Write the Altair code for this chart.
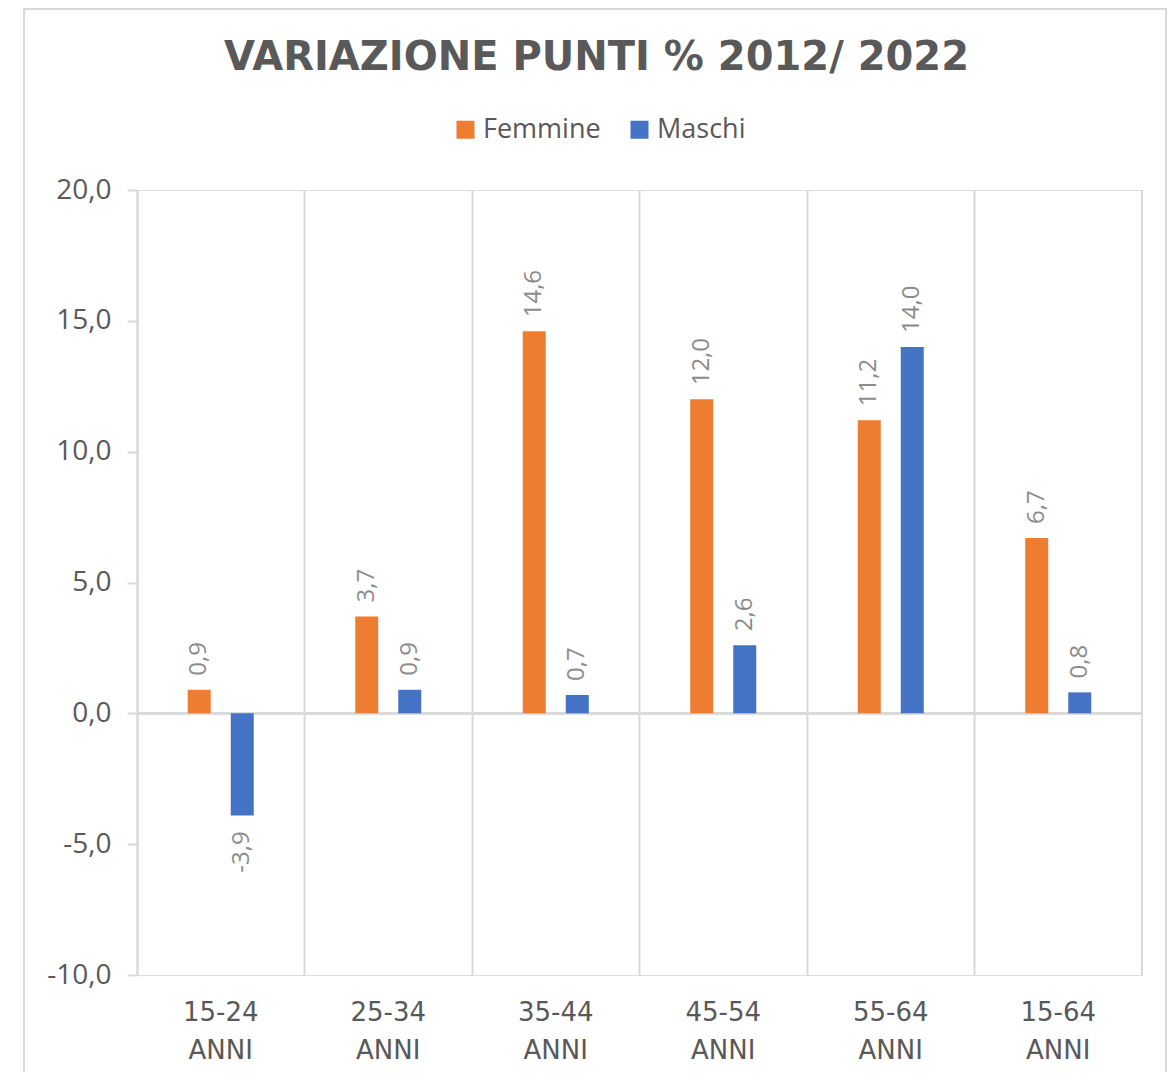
import altair as alt
import pandas as pd

categories = ["15-24 ANNI", "25-34 ANNI", "35-44 ANNI", "45-54 ANNI", "55-64 ANNI", "15-64 ANNI"]
series = ["Femmine", "Maschi"]
femmine = [0.9, 3.7, 14.6, 12.0, 11.2, 6.7]
maschi = [-3.9, 0.9, 0.7, 2.6, 14.0, 0.8]
colors = ["#ED7D31", "#4472C4"]
y_ticks = [-10, -5, 0, 5, 10, 15, 20]

rows = []
for c, f, m in zip(categories, femmine, maschi):
    rows.append({"cat": c, "serie": "Femmine", "v": f})
    rows.append({"cat": c, "serie": "Maschi", "v": m})
df = pd.DataFrame(rows)

W, H = 1005, 785
GRID = "#D9D9D9"
TXT = "#595959"

x_enc = alt.X(
    "cat:N", sort=categories,
    scale=alt.Scale(paddingInner=0, paddingOuter=0),
    axis=alt.Axis(
        title=None, labelAngle=0, labelExpr="split(datum.label, ' ')",
        grid=True, gridColor=GRID, gridWidth=2, bandPosition=0,
        domain=False, ticks=False, labelFont="DejaVu Sans", labelFontSize=26,
        labelColor=TXT, labelPadding=24, labelLineHeight=38, labelBaseline="top",
    ),
)
y_enc = alt.Y(
    "v:Q",
    scale=alt.Scale(domain=[-10, 20], nice=False, zero=False),
    axis=alt.Axis(
        title=None, values=y_ticks, grid=False,
        labelExpr="(datum.value < 0 ? '-' : '') + replace(format(abs(datum.value), '.1f'), '.', ',')",
        labelFont="Open Sans", labelFontSize=28, labelColor=TXT, labelPadding=16,
        domainColor=GRID, domainWidth=2, tickColor=GRID, tickWidth=2, tickSize=10,
    ),
)
xoff = alt.XOffset("serie:N", sort=series, scale=alt.Scale(paddingInner=0, paddingOuter=0.947))

base = alt.Chart(df)

border = base.mark_rect(fill=None, stroke=GRID, strokeWidth=2).encode(
    x=alt.value(-113), x2=alt.value(1029), y=alt.value(-181), y2=alt.value(1000)
)
right_edge = base.mark_rule(color=GRID, strokeWidth=2).encode(
    x=alt.value(W), y=alt.value(0), y2=alt.value(H)
)
zero = base.mark_rule(color=GRID, strokeWidth=2).encode(
    y=alt.datum(0), x=alt.value(0), x2=alt.value(W)
)
bars = base.mark_bar(width=23).encode(
    x=x_enc, xOffset=xoff, y=y_enc,
    color=alt.Color(
        "serie:N", sort=series,
        scale=alt.Scale(domain=series, range=colors),
        legend=alt.Legend(
            title=None, orient="none", legendX=315, legendY=-74, direction="horizontal",
            symbolType="square", symbolSize=324, symbolStrokeWidth=0,
            labelFont="Open Sans", labelFontSize=27, labelColor=TXT,
            labelOffset=4, columnPadding=25,
        ),
    ),
)
lbl_expr = "(datum.v < 0 ? '-' : '') + replace(format(abs(datum.v), '.1f'), '.', ',')"
pos_labels = base.transform_filter("datum.v >= 0").transform_calculate(lbl=lbl_expr).mark_text(
    angle=270, align="left", baseline="middle", dx=14, font="Open Sans", fontSize=24, color="#8C8C8C"
).encode(x=x_enc, xOffset=xoff, y=y_enc, text="lbl:N")
neg_labels = base.transform_filter("datum.v < 0").transform_calculate(lbl=lbl_expr).mark_text(
    angle=270, align="right", baseline="middle", dx=-16, font="Open Sans", fontSize=24, color="#8C8C8C"
).encode(x=x_enc, xOffset=xoff, y=y_enc, text="lbl:N")

chart = alt.layer(border, zero, right_edge, bars, pos_labels, neg_labels).properties(
    width=W, height=H,
    title=alt.Title(
        "VARIAZIONE PUNTI % 2012/ 2022", font="DejaVu Sans", fontSize=40, fontWeight="bold",
        color=TXT, anchor="middle", frame="group", dx=-43, offset=-102, baseline="alphabetic",
    ),
    autosize=alt.AutoSizeParams(type="none"),
    padding={"left": 129, "top": 182, "right": 26, "bottom": 97},
).configure_view(stroke=None).configure(background="white")

chart.save("out.html", embed_options={"renderer": "svg", "actions": False})
